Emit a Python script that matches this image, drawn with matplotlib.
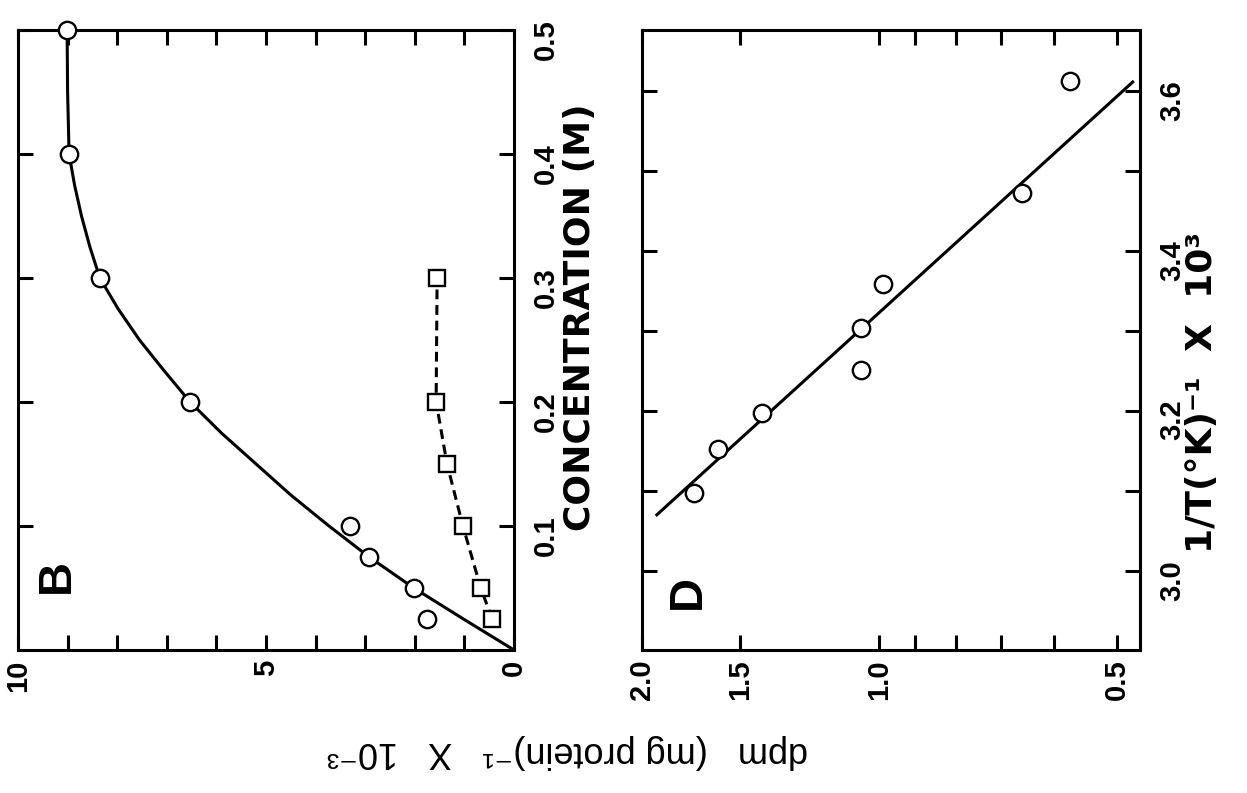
import matplotlib
matplotlib.use("Agg")
import matplotlib.pyplot as plt
from matplotlib.ticker import FixedLocator, FixedFormatter, NullFormatter

plt.rcParams['font.family'] = ['Liberation Sans', 'DejaVu Sans']

# ---- Panel B: binding versus salt concentration ----
conc_circles = [0.5, 0.4, 0.3, 0.2, 0.1, 0.075, 0.05, 0.025]
dpm_circles = [9.01, 8.97, 8.35, 6.53, 3.31, 2.92, 2.02, 1.76]

conc_curve = [0.0, 0.025, 0.05, 0.075, 0.1, 0.125, 0.15, 0.175, 0.2, 0.225,
              0.25, 0.275, 0.3, 0.325, 0.35, 0.375, 0.4, 0.45, 0.5]
dpm_curve = [0.0, 1.02, 2.02, 2.92, 3.73, 4.5, 5.2, 5.9, 6.53, 7.05,
             7.55, 7.98, 8.35, 8.55, 8.72, 8.86, 8.97, 9.0, 9.01]

conc_squares = [0.025, 0.05, 0.1, 0.15, 0.2, 0.3]
dpm_squares = [0.44, 0.67, 1.03, 1.35, 1.57, 1.55]

# ---- Panel D: Arrhenius-type plot ----
inv_t_points = [3.0975, 3.152, 3.1975, 3.251, 3.304, 3.359, 3.4725, 3.6125]
dpm_points = [1.72, 1.60, 1.41, 1.054, 1.054, 0.99, 0.659, 0.573]
inv_t_fit = [3.07, 3.611]
dpm_fit = [1.915, 0.477]

b_major = [0, 5, 10]
b_minor = [1, 2, 3, 4, 6, 7, 8, 9]
conc_ticks = [0.1, 0.2, 0.3, 0.4, 0.5]
conc_labels = ['0.1', '0.2', '0.3', '0.4', '0.5']
d_major = [0.5, 1.0, 1.5, 2.0]
d_major_labels = ['0.5', '1.0', '1.5', '2.0']
d_minor = [0.6, 0.7, 0.8, 0.9]
t_major = [3.0, 3.2, 3.4, 3.6]
t_labels = ['3.0', '3.2', '3.4', '3.6']
t_minor = [3.1, 3.3, 3.5]

W, H = 1247, 793
fig = plt.figure(figsize=(W / 100, H / 100), dpi=100)

LW = 2.2
TICK_LEN = 10.5
TICK_KW = dict(direction='in', length=TICK_LEN, width=LW, color='black')
TICK_FONT = 21
TITLE_FONT = dict(family='DejaVu Sans', fontweight='bold', fontsize=26)


def style_axes(ax):
    for sp in ax.spines.values():
        sp.set_linewidth(LW)
    ax.tick_params(axis='both', which='both', **TICK_KW)
    ax.tick_params(axis='x', which='both', bottom=True, top=True,
                   labelbottom=True, labeltop=False, pad=7,
                   labelsize=TICK_FONT, labelrotation=90)
    ax.tick_params(axis='y', which='both', left=True, right=True,
                   labelleft=False, labelright=True, pad=13,
                   labelsize=TICK_FONT, labelrotation=90)
    for lab in ax.get_xticklabels() + ax.get_yticklabels():
        lab.set_fontweight('bold')


# Panel B (drawn turned on its side: dpm runs right-to-left, concentration upward)
axb = fig.add_axes([18 / W, (H - 650) / H, 496 / W, 620 / H])
axb.plot(dpm_curve, conc_curve, color='black', lw=LW, zorder=2,
         solid_capstyle='round')
axb.plot(dpm_squares, conc_squares, color='black', lw=LW, zorder=2,
         dashes=(3.2, 1.9))
axb.plot(dpm_circles, conc_circles, 'o', ms=12.5, mfc='white', mec='black',
         mew=1.7, zorder=3, clip_on=False)
axb.plot(dpm_squares, conc_squares, 's', ms=12, mfc='white', mec='black',
         mew=1.7, zorder=3, clip_on=False)
axb.set_xlim(10, 0)
axb.set_ylim(0, 0.5)
axb.xaxis.set_major_locator(FixedLocator(b_major))
axb.xaxis.set_major_formatter(FixedFormatter([str(v) for v in b_major]))
axb.xaxis.set_minor_locator(FixedLocator(b_minor))
axb.yaxis.set_major_locator(FixedLocator(conc_ticks))
axb.yaxis.set_major_formatter(FixedFormatter(conc_labels))
style_axes(axb)

# Panel D (log dpm runs right-to-left, 1/T upward)
axd = fig.add_axes([642 / W, (H - 650) / H, 498 / W, 620 / H])
axd.set_xscale('log')
axd.plot(dpm_fit, inv_t_fit, color='black', lw=LW, zorder=2)
axd.plot(dpm_points, inv_t_points, 'o', ms=12.5, mfc='white', mec='black',
         mew=1.7, zorder=3, clip_on=False)
axd.set_xlim(2.0, 0.467)
axd.set_ylim(2.901, 3.676)
axd.xaxis.set_major_locator(FixedLocator(d_major))
axd.xaxis.set_major_formatter(FixedFormatter(d_major_labels))
axd.xaxis.set_minor_locator(FixedLocator(d_minor))
axd.xaxis.set_minor_formatter(NullFormatter())
axd.yaxis.set_major_locator(FixedLocator(t_major))
axd.yaxis.set_major_formatter(FixedFormatter(t_labels))
axd.yaxis.set_minor_locator(FixedLocator(t_minor))
axd.yaxis.set_minor_formatter(NullFormatter())
style_axes(axd)

# Panel letters
fig.text(57 / W, 1 - 576 / H, 'B', rotation=90, ha='center', va='center',
         fontsize=34, fontweight='bold')
fig.text(688 / W, 1 - 592 / H, 'D', rotation=90, ha='center', va='center',
         fontsize=34, fontweight='bold')

# Axis titles
fig.text(580 / W, 1 - 317 / H, 'CONCENTRATION (M)', rotation=90,
         ha='center', va='center', **TITLE_FONT)
fig.text(1202 / W, 1 - 392 / H, '1/T(°K)⁻¹  X  10³', rotation=90,
         ha='center', va='center', **TITLE_FONT)
fig.text(568 / W, 1 - 752 / H, 'dpm   (mg protein)⁻¹   X   10⁻³',
         rotation=180, ha='center', va='center', fontsize=26)

fig.savefig('out.png', dpi=100, facecolor='white')
